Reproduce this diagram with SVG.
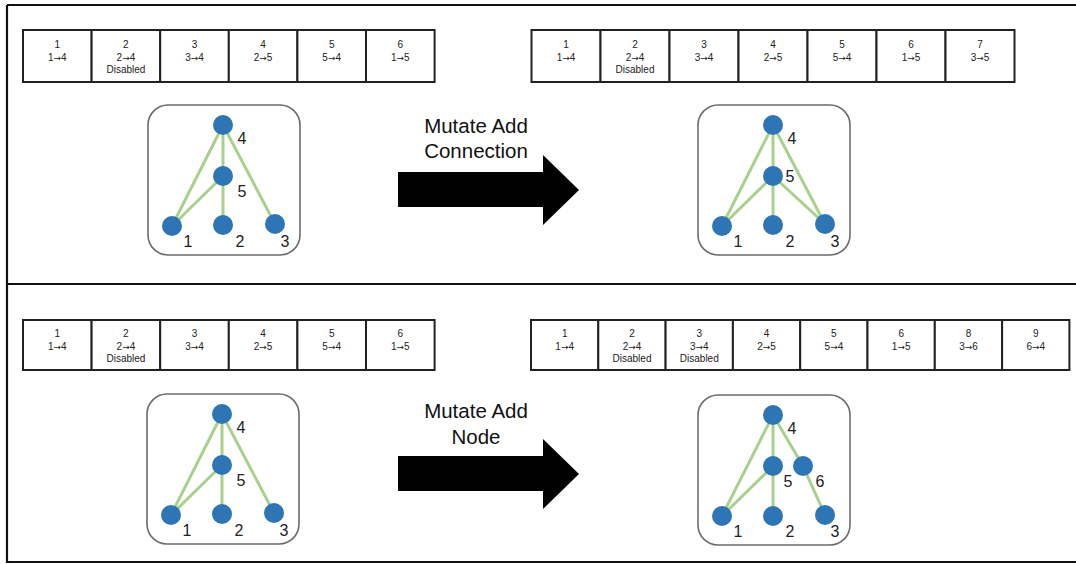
<svg xmlns="http://www.w3.org/2000/svg" width="1076" height="564" viewBox="0 0 1076 564">
  <style>
    .frame { stroke: #111; stroke-width: 2.2; fill: none; }
    .cell { fill: #fff; stroke: #222; stroke-width: 2; }
    .ct { font-family: "Liberation Sans", Arial, sans-serif; font-size: 10px; fill: #222; text-anchor: middle; }
    .ar { font-family: "DejaVu Sans", sans-serif; font-size: 9px; }
    .box { fill: #fff; stroke: #6b6b6b; stroke-width: 1.6; }
    .edge { stroke: #a9d18e; stroke-width: 3; fill: none; }
    .node { fill: #2e75b6; }
    .nl { font-family: "Liberation Sans", Arial, sans-serif; font-size: 16px; fill: #222; text-anchor: middle; }
    .big { font-family: "Liberation Sans", Arial, sans-serif; font-size: 20.5px; fill: #111; text-anchor: middle; }
    .arrow { fill: #000; }
  </style>
  <rect width="1076" height="564" fill="#fff"/>

  <!-- panel frame -->
  <g id="frame">
    <path class="frame" d="M7,5 H1076 M7,5 V562 H1076 M7,284 H1076"/>
  </g>

  <!-- genome tables -->
  <g id="genome-top-left">
    <rect class="cell" x="23" y="30" width="68.6" height="52"/>
    <rect class="cell" x="91.6" y="30" width="68.6" height="52"/>
    <rect class="cell" x="160.2" y="30" width="68.6" height="52"/>
    <rect class="cell" x="228.8" y="30" width="68.6" height="52"/>
    <rect class="cell" x="297.4" y="30" width="68.6" height="52"/>
    <rect class="cell" x="366" y="30" width="68.6" height="52"/>
    <text class="ct" x="57.3" y="47.5">1</text><text class="ct" x="57.3" y="60.5">1<tspan class="ar">→</tspan>4</text>
    <text class="ct" x="125.9" y="47.5">2</text><text class="ct" x="125.9" y="60.5">2<tspan class="ar">→</tspan>4</text><text class="ct" x="125.9" y="72.5">Disabled</text>
    <text class="ct" x="194.5" y="47.5">3</text><text class="ct" x="194.5" y="60.5">3<tspan class="ar">→</tspan>4</text>
    <text class="ct" x="263.1" y="47.5">4</text><text class="ct" x="263.1" y="60.5">2<tspan class="ar">→</tspan>5</text>
    <text class="ct" x="331.7" y="47.5">5</text><text class="ct" x="331.7" y="60.5">5<tspan class="ar">→</tspan>4</text>
    <text class="ct" x="400.3" y="47.5">6</text><text class="ct" x="400.3" y="60.5">1<tspan class="ar">→</tspan>5</text>
  </g>

  <g id="genome-top-right">
    <rect class="cell" x="531.5" y="30" width="69" height="52"/>
    <rect class="cell" x="600.5" y="30" width="69" height="52"/>
    <rect class="cell" x="669.5" y="30" width="69" height="52"/>
    <rect class="cell" x="738.5" y="30" width="69" height="52"/>
    <rect class="cell" x="807.5" y="30" width="69" height="52"/>
    <rect class="cell" x="876.5" y="30" width="69" height="52"/>
    <rect class="cell" x="945.5" y="30" width="69" height="52"/>
    <text class="ct" x="566" y="47.5">1</text><text class="ct" x="566" y="60.5">1<tspan class="ar">→</tspan>4</text>
    <text class="ct" x="635" y="47.5">2</text><text class="ct" x="635" y="60.5">2<tspan class="ar">→</tspan>4</text><text class="ct" x="635" y="72.5">Disabled</text>
    <text class="ct" x="704" y="47.5">3</text><text class="ct" x="704" y="60.5">3<tspan class="ar">→</tspan>4</text>
    <text class="ct" x="773" y="47.5">4</text><text class="ct" x="773" y="60.5">2<tspan class="ar">→</tspan>5</text>
    <text class="ct" x="842" y="47.5">5</text><text class="ct" x="842" y="60.5">5<tspan class="ar">→</tspan>4</text>
    <text class="ct" x="911" y="47.5">6</text><text class="ct" x="911" y="60.5">1<tspan class="ar">→</tspan>5</text>
    <text class="ct" x="980" y="47.5">7</text><text class="ct" x="980" y="60.5">3<tspan class="ar">→</tspan>5</text>
  </g>

  <g id="genome-bottom-left">
    <rect class="cell" x="23" y="320" width="68.6" height="50"/>
    <rect class="cell" x="91.6" y="320" width="68.6" height="50"/>
    <rect class="cell" x="160.2" y="320" width="68.6" height="50"/>
    <rect class="cell" x="228.8" y="320" width="68.6" height="50"/>
    <rect class="cell" x="297.4" y="320" width="68.6" height="50"/>
    <rect class="cell" x="366" y="320" width="68.6" height="50"/>
    <text class="ct" x="57.3" y="337">1</text><text class="ct" x="57.3" y="349.5">1<tspan class="ar">→</tspan>4</text>
    <text class="ct" x="125.9" y="337">2</text><text class="ct" x="125.9" y="349.5">2<tspan class="ar">→</tspan>4</text><text class="ct" x="125.9" y="361.5">Disabled</text>
    <text class="ct" x="194.5" y="337">3</text><text class="ct" x="194.5" y="349.5">3<tspan class="ar">→</tspan>4</text>
    <text class="ct" x="263.1" y="337">4</text><text class="ct" x="263.1" y="349.5">2<tspan class="ar">→</tspan>5</text>
    <text class="ct" x="331.7" y="337">5</text><text class="ct" x="331.7" y="349.5">5<tspan class="ar">→</tspan>4</text>
    <text class="ct" x="400.3" y="337">6</text><text class="ct" x="400.3" y="349.5">1<tspan class="ar">→</tspan>5</text>
  </g>

  <g id="genome-bottom-right">
    <rect class="cell" x="531" y="320" width="67.3" height="50"/>
    <rect class="cell" x="598.3" y="320" width="67.3" height="50"/>
    <rect class="cell" x="665.6" y="320" width="67.3" height="50"/>
    <rect class="cell" x="732.9" y="320" width="67.3" height="50"/>
    <rect class="cell" x="800.2" y="320" width="67.3" height="50"/>
    <rect class="cell" x="867.5" y="320" width="67.3" height="50"/>
    <rect class="cell" x="934.8" y="320" width="67.3" height="50"/>
    <rect class="cell" x="1002.1" y="320" width="67.3" height="50"/>
    <text class="ct" x="564.7" y="337">1</text><text class="ct" x="564.7" y="349.5">1<tspan class="ar">→</tspan>4</text>
    <text class="ct" x="632" y="337">2</text><text class="ct" x="632" y="349.5">2<tspan class="ar">→</tspan>4</text><text class="ct" x="632" y="361.5">Disabled</text>
    <text class="ct" x="699.3" y="337">3</text><text class="ct" x="699.3" y="349.5">3<tspan class="ar">→</tspan>4</text><text class="ct" x="699.3" y="361.5">Disabled</text>
    <text class="ct" x="766.6" y="337">4</text><text class="ct" x="766.6" y="349.5">2<tspan class="ar">→</tspan>5</text>
    <text class="ct" x="833.9" y="337">5</text><text class="ct" x="833.9" y="349.5">5<tspan class="ar">→</tspan>4</text>
    <text class="ct" x="901.2" y="337">6</text><text class="ct" x="901.2" y="349.5">1<tspan class="ar">→</tspan>5</text>
    <text class="ct" x="968.5" y="337">8</text><text class="ct" x="968.5" y="349.5">3<tspan class="ar">→</tspan>6</text>
    <text class="ct" x="1035.8" y="337">9</text><text class="ct" x="1035.8" y="349.5">6<tspan class="ar">→</tspan>4</text>
  </g>

  <!-- network panels -->
  <g id="net-top-left">
    <rect class="box" x="148" y="105" width="152" height="150" rx="20"/>
    <g class="connectors">
      <line class="edge" x1="223" y1="125" x2="172" y2="226"/>
      <line class="edge" x1="223" y1="125" x2="223" y2="176"/>
      <line class="edge" x1="223" y1="125" x2="275" y2="224"/>
      <line class="edge" x1="223" y1="176" x2="172" y2="226"/>
      <line class="edge" x1="223" y1="176" x2="223" y2="225"/>
    </g>
    <circle class="node" cx="223" cy="125" r="10"/>
    <circle class="node" cx="223" cy="176" r="10"/>
    <circle class="node" cx="172" cy="226" r="10"/>
    <circle class="node" cx="223" cy="225" r="10"/>
    <circle class="node" cx="275" cy="224" r="10"/>
    <text class="nl" x="242" y="144">4</text>
    <text class="nl" x="242" y="197">5</text>
    <text class="nl" x="188" y="247">1</text>
    <text class="nl" x="240" y="247">2</text>
    <text class="nl" x="285" y="247">3</text>
  </g>

  <g id="net-top-right">
    <rect class="box" x="698" y="105" width="152" height="150" rx="20"/>
    <g class="connectors">
      <line class="edge" x1="773" y1="125" x2="722" y2="226"/>
      <line class="edge" x1="773" y1="125" x2="773" y2="176"/>
      <line class="edge" x1="773" y1="125" x2="825" y2="224"/>
      <line class="edge" x1="773" y1="176" x2="722" y2="226"/>
      <line class="edge" x1="773" y1="176" x2="773" y2="225"/>
      <line class="edge" x1="773" y1="176" x2="825" y2="224"/>
    </g>
    <circle class="node" cx="773" cy="125" r="10"/>
    <circle class="node" cx="773" cy="176" r="10"/>
    <circle class="node" cx="722" cy="226" r="10"/>
    <circle class="node" cx="773" cy="225" r="10"/>
    <circle class="node" cx="825" cy="224" r="10"/>
    <text class="nl" x="792" y="144">4</text>
    <text class="nl" x="790" y="182">5</text>
    <text class="nl" x="738" y="247">1</text>
    <text class="nl" x="790" y="247">2</text>
    <text class="nl" x="835" y="247">3</text>
  </g>

  <g id="net-bottom-left">
    <rect class="box" x="147" y="394" width="152" height="150" rx="20"/>
    <g class="connectors">
      <line class="edge" x1="222" y1="414" x2="171" y2="515"/>
      <line class="edge" x1="222" y1="414" x2="222" y2="465"/>
      <line class="edge" x1="222" y1="414" x2="274" y2="513"/>
      <line class="edge" x1="222" y1="465" x2="171" y2="515"/>
      <line class="edge" x1="222" y1="465" x2="222" y2="514"/>
    </g>
    <circle class="node" cx="222" cy="414" r="10"/>
    <circle class="node" cx="222" cy="465" r="10"/>
    <circle class="node" cx="171" cy="515" r="10"/>
    <circle class="node" cx="222" cy="514" r="10"/>
    <circle class="node" cx="274" cy="513" r="10"/>
    <text class="nl" x="241" y="433">4</text>
    <text class="nl" x="241" y="486">5</text>
    <text class="nl" x="187" y="536">1</text>
    <text class="nl" x="239" y="536">2</text>
    <text class="nl" x="284" y="536">3</text>
  </g>

  <g id="net-bottom-right">
    <rect class="box" x="698" y="395" width="152" height="150" rx="20"/>
    <g class="connectors">
      <line class="edge" x1="773" y1="415" x2="722" y2="516"/>
      <line class="edge" x1="773" y1="415" x2="773" y2="466"/>
      <line class="edge" x1="773" y1="415" x2="803" y2="466"/>
      <line class="edge" x1="803" y1="466" x2="825" y2="515"/>
      <line class="edge" x1="773" y1="466" x2="722" y2="516"/>
      <line class="edge" x1="773" y1="466" x2="773" y2="516"/>
    </g>
    <circle class="node" cx="773" cy="415" r="10"/>
    <circle class="node" cx="773" cy="466" r="10"/>
    <circle class="node" cx="803" cy="466" r="10"/>
    <circle class="node" cx="722" cy="516" r="10"/>
    <circle class="node" cx="773" cy="516" r="10"/>
    <circle class="node" cx="825" cy="515" r="10"/>
    <text class="nl" x="792" y="434">4</text>
    <text class="nl" x="788" y="487">5</text>
    <text class="nl" x="820" y="487">6</text>
    <text class="nl" x="738" y="537">1</text>
    <text class="nl" x="790" y="537">2</text>
    <text class="nl" x="835" y="537">3</text>
  </g>

  <!-- mutation arrows -->
  <g id="arrow-add-connection">
    <polygon class="arrow" points="398,172 543,172 543,155 579,190 543,225 543,207 398,207"/>
    <text class="big" x="476" y="133">Mutate Add</text>
    <text class="big" x="476" y="158">Connection</text>
  </g>

  <g id="arrow-add-node">
    <polygon class="arrow" points="398,456 543,456 543,439 579,474 543,509 543,491 398,491"/>
    <text class="big" x="476" y="418">Mutate Add</text>
    <text class="big" x="476" y="444">Node</text>
  </g>
</svg>
